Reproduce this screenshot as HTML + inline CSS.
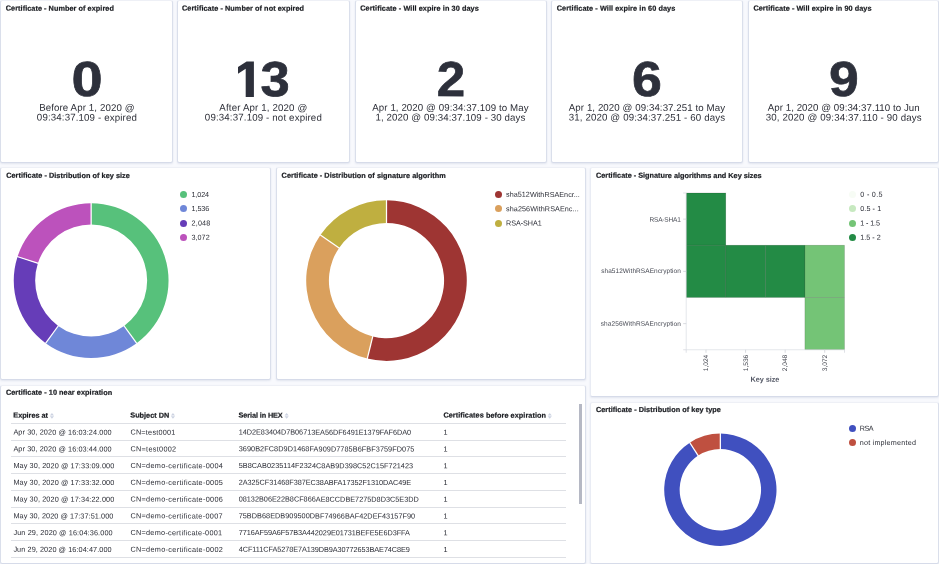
<!DOCTYPE html>
<html><head><meta charset="utf-8"><title>Certificates</title>
<style>
*{box-sizing:border-box;margin:0;padding:0}
html,body{width:939px;height:564px;overflow:hidden;background:#f8f9fd;font-family:"Liberation Sans",sans-serif;color:#343741}
.p{position:absolute;background:#fff;border:1px solid #dadfeb;border-top-color:#eef0f6;border-bottom-color:#d6dbe9;border-radius:2.5px;box-shadow:0 1px 2px rgba(160,170,200,.25)}
.a{position:absolute;white-space:nowrap;transform:rotate(0.1deg)}
#tx{position:absolute;left:0;top:0;width:939px;height:564px;will-change:transform}
.t{font-weight:bold;color:#1a1c21;line-height:9px;-webkit-text-stroke:0.22px #1a1c21}
.num{font-weight:bold;color:#2d303b;transform-origin:50% 50%;-webkit-text-stroke:0.7px #2d303b}
.lab{color:#2b2d36;line-height:10px}
.lg{line-height:9px;color:#2b2d36}
.dot{position:absolute;width:7px;height:7px;border-radius:50%}
.th{font-weight:bold;color:#1a1c21;line-height:9px;-webkit-text-stroke:0.22px #1a1c21}
.td{color:#2b2d36;line-height:9px}
.hl{position:absolute;left:10.8px;width:555.2px;height:1px;background:#dee0e5}
svg{position:absolute;left:0;top:0}
</style></head><body>

<div class="p" style="left:0px;top:0px;width:173px;height:163px;"></div>
<div class="p" style="left:177px;top:0px;width:173px;height:163px;"></div>
<div class="p" style="left:355px;top:0px;width:192px;height:163px;"></div>
<div class="p" style="left:551px;top:0px;width:192px;height:163px;"></div>
<div class="p" style="left:748px;top:0px;width:191px;height:163px;"></div>
<div class="p" style="left:0px;top:167px;width:271px;height:213px;"></div>
<div class="p" style="left:276px;top:167px;width:310px;height:213px;"></div>
<div class="p" style="left:590px;top:167px;width:349px;height:230px;border-left-color:#e9ecf4;"></div>
<div class="p" style="left:0px;top:385px;width:586px;height:179px;"></div>
<div class="p" style="left:590px;top:402px;width:349px;height:162px;border-left-color:#e9ecf4;"></div>
<svg width="939" height="564" viewBox="0 0 939 564" style="will-change:transform"><path d="M253.9 61.4H246.6L238 66.9V73.7L245.7 68.8V97H253.9Z" fill="#2d303b"/></svg>
<svg width="939" height="564" viewBox="0 0 939 564">
<path d="M91.15 203.20A77.4 77.4 0 0 1 136.64 343.22L124.07 325.90A56.0 56.0 0 0 0 91.15 224.60Z" fill="#57c17b"/>
<path d="M136.64 343.22A77.4 77.4 0 0 1 45.66 343.22L58.23 325.90A56.0 56.0 0 0 0 124.07 325.90Z" fill="#6f87d8"/>
<path d="M45.66 343.22A77.4 77.4 0 0 1 17.54 256.68L37.89 263.30A56.0 56.0 0 0 0 58.23 325.90Z" fill="#663db8"/>
<path d="M17.54 256.68A77.4 77.4 0 0 1 91.15 203.20L91.15 224.60A56.0 56.0 0 0 0 37.89 263.30Z" fill="#bc52bc"/>
<path d="M91.15 225.10L91.15 202.70" stroke="#fff" stroke-width="1.25"/>
<path d="M123.77 325.50L136.94 343.62" stroke="#fff" stroke-width="1.25"/>
<path d="M58.53 325.50L45.36 343.62" stroke="#fff" stroke-width="1.25"/>
<path d="M38.37 263.45L17.06 256.53" stroke="#fff" stroke-width="1.25"/>
<path d="M386.50 200.30A80.3 80.3 0 1 1 367.28 358.57L372.72 336.53A57.6 57.6 0 1 0 386.50 223.00Z" fill="#9e3533"/>
<path d="M367.28 358.57A80.3 80.3 0 0 1 320.41 234.98L339.10 247.88A57.6 57.6 0 0 0 372.72 336.53Z" fill="#daa05d"/>
<path d="M320.41 234.98A80.3 80.3 0 0 1 386.50 200.30L386.50 223.00A57.6 57.6 0 0 0 339.10 247.88Z" fill="#bfaf40"/>
<path d="M386.50 223.50L386.50 199.80" stroke="#fff" stroke-width="1.25"/>
<path d="M372.84 336.04L367.16 359.05" stroke="#fff" stroke-width="1.25"/>
<path d="M339.51 248.16L320.00 234.70" stroke="#fff" stroke-width="1.25"/>
<path d="M720.35 433.60A56.15 56.15 0 1 1 689.77 442.66L698.18 455.62A40.7 40.7 0 1 0 720.35 449.05Z" fill="#4050bf"/>
<path d="M689.77 442.66A56.15 56.15 0 0 1 720.35 433.60L720.35 449.05A40.7 40.7 0 0 0 698.18 455.62Z" fill="#bf5040"/>
<path d="M720.35 449.55L720.35 433.10" stroke="#fff" stroke-width="1.25"/>
<path d="M698.46 456.04L689.50 442.24" stroke="#fff" stroke-width="1.25"/>
<rect x="686.2" y="193.0" width="39.58" height="52.25" fill="#238b45" stroke="rgba(0,0,0,0.22)" stroke-width="0.6"/>
<rect x="686.2" y="245.2" width="39.58" height="52.25" fill="#238b45" stroke="rgba(0,0,0,0.22)" stroke-width="0.6"/>
<rect x="725.8" y="245.2" width="39.58" height="52.25" fill="#238b45" stroke="rgba(0,0,0,0.22)" stroke-width="0.6"/>
<rect x="765.4" y="245.2" width="39.58" height="52.25" fill="#238b45" stroke="rgba(0,0,0,0.22)" stroke-width="0.6"/>
<rect x="804.9" y="245.2" width="39.58" height="52.25" fill="#74c476" stroke="rgba(0,0,0,0.22)" stroke-width="0.6"/>
<rect x="804.9" y="297.5" width="39.58" height="52.25" fill="#74c476" stroke="rgba(0,0,0,0.22)" stroke-width="0.6"/>
<path d="M686.2 193.0V349.75H844.52" fill="none" stroke="#d9dce2" stroke-width="0.7"/>
<path d="M683.2 219.125H686.2" stroke="#c9ccd3" stroke-width="0.7"/>
<path d="M683.2 271.375H686.2" stroke="#c9ccd3" stroke-width="0.7"/>
<path d="M683.2 323.625H686.2" stroke="#c9ccd3" stroke-width="0.7"/>
<path d="M705.99 349.75v3" stroke="#c9ccd3" stroke-width="0.7"/>
<path d="M745.57 349.75v3" stroke="#c9ccd3" stroke-width="0.7"/>
<path d="M785.1500000000001 349.75v3" stroke="#c9ccd3" stroke-width="0.7"/>
<path d="M824.73 349.75v3" stroke="#c9ccd3" stroke-width="0.7"/>
<path d="M686.2 349.75v3M844.52 349.75v3M683.2 193.0h3M683.2 349.75h3" stroke="#d3d6dc" stroke-width="0.7"/>
<path d="M49.85 415.4L51.95 413.0L54.050000000000004 415.4ZM49.85 416.3L51.95 418.7L54.050000000000004 416.3Z" fill="#cdd3e2"/>
<path d="M170.85 415.4L172.95 413.0L175.04999999999998 415.4ZM170.85 416.3L172.95 418.7L175.04999999999998 416.3Z" fill="#cdd3e2"/>
<path d="M284.54999999999995 415.4L286.65 413.0L288.75 415.4ZM284.54999999999995 416.3L286.65 418.7L288.75 416.3Z" fill="#cdd3e2"/>
<path d="M547.65 415.4L549.75 413.0L551.85 415.4ZM547.65 416.3L549.75 418.7L551.85 416.3Z" fill="#cdd3e2"/>
</svg>
<div class="dot" style="left:849.20px;top:190.70px;background:#f7fcf5"></div>
<div class="dot" style="left:849.20px;top:205.10px;background:#c7e9c0"></div>
<div class="dot" style="left:849.20px;top:219.50px;background:#74c476"></div>
<div class="dot" style="left:849.20px;top:233.80px;background:#238b45"></div>
<div class="dot" style="left:180.30px;top:190.90px;background:#57c17b"></div>
<div class="dot" style="left:180.30px;top:205.10px;background:#6f87d8"></div>
<div class="dot" style="left:180.30px;top:219.50px;background:#663db8"></div>
<div class="dot" style="left:180.30px;top:233.80px;background:#bc52bc"></div>
<div class="dot" style="left:495.00px;top:190.90px;background:#9e3533"></div>
<div class="dot" style="left:495.00px;top:205.20px;background:#daa05d"></div>
<div class="dot" style="left:495.00px;top:219.60px;background:#bfaf40"></div>
<div class="dot" style="left:849.10px;top:424.70px;background:#4050bf"></div>
<div class="dot" style="left:849.10px;top:439.00px;background:#bf5040"></div>
<div class="hl" style="top:422.80px"></div>
<div class="hl" style="top:439.55px"></div>
<div class="hl" style="top:456.30px"></div>
<div class="hl" style="top:473.05px"></div>
<div class="hl" style="top:489.80px"></div>
<div class="hl" style="top:506.55px"></div>
<div class="hl" style="top:523.30px"></div>
<div class="hl" style="top:540.05px"></div>
<div class="hl" style="top:556.80px"></div>
<div style="position:absolute;left:579.3px;top:404px;width:2.6px;height:99.5px;background:#b5b8c4"></div>
<div id="tx">
<div class="a t" style="left:5px;top:3px;font-size:7.3px;transform:translate(0.80px,0.70px) rotate(0.1deg);letter-spacing:0.047px;">Certificate - Number of expired</div>
<div class="a t" style="left:182px;top:3px;font-size:7.3px;transform:translate(0.00px,0.70px) rotate(0.1deg);letter-spacing:0.060px;">Certificate - Number of not expired</div>
<div class="a t" style="left:360px;top:3px;font-size:7.3px;transform:translate(0.20px,0.70px) rotate(0.1deg);letter-spacing:0.075px;">Certificate - Will expire in 30 days</div>
<div class="a t" style="left:556px;top:3px;font-size:7.3px;transform:translate(0.70px,0.70px) rotate(0.1deg);letter-spacing:0.075px;">Certificate - Will expire in 60 days</div>
<div class="a t" style="left:753px;top:3px;font-size:7.3px;transform:translate(0.40px,0.70px) rotate(0.1deg);letter-spacing:0.064px;">Certificate - Will expire in 90 days</div>
<div class="a t" style="left:6px;top:170px;font-size:7.3px;transform:translate(0.20px,0.90px) rotate(0.1deg);letter-spacing:0.043px;">Certificate - Distribution of key size</div>
<div class="a t" style="left:281px;top:170px;font-size:7.3px;transform:translate(0.60px,0.90px) rotate(0.1deg);letter-spacing:0.041px;">Certificate - Distribution of signature algorithm</div>
<div class="a t" style="left:596px;top:170px;font-size:7.3px;transform:translate(0.00px,0.90px) rotate(0.1deg);letter-spacing:0.004px;">Certificate - Signature algorithms and Key sizes</div>
<div class="a t" style="left:5px;top:387px;font-size:7.3px;transform:translate(0.90px,0.80px) rotate(0.1deg);letter-spacing:0.053px;">Certificate - 10 near expiration</div>
<div class="a t" style="left:595px;top:405px;font-size:7.3px;transform:translate(0.90px,0.00px) rotate(0.1deg);letter-spacing:0.046px;">Certificate - Distribution of key type</div>
<div class="a num" style="left:36.5px;width:100px;text-align:center;top:56.9px;font-size:49.2px;line-height:44px;transform:scaleX(1.137) rotate(0.1deg)">0</div>
<div class="a num" style="left:400.6px;width:100px;text-align:center;top:56.9px;font-size:49.2px;line-height:44px;transform:scaleX(1.038) rotate(0.1deg)">2</div>
<div class="a num" style="left:597.1px;width:100px;text-align:center;top:56.9px;font-size:49.2px;line-height:44px;transform:scaleX(1.090) rotate(0.1deg)">6</div>
<div class="a num" style="left:793.9px;width:100px;text-align:center;top:56.9px;font-size:49.2px;line-height:44px;transform:scaleX(1.086) rotate(0.1deg)">9</div>
<div class="a num" style="left:224.8px;width:100px;text-align:center;top:56.9px;font-size:49.2px;line-height:44px;transform:scaleX(1.066) rotate(0.1deg)">3</div>
<div class="a lab" style="left:39px;top:102px;font-size:9.7px;transform:translate(0.15px,0.85px) rotate(0.1deg);letter-spacing:0.109px;">Before Apr 1, 2020 @</div>
<div class="a lab" style="left:36px;top:112px;font-size:9.7px;transform:translate(0.85px,0.65px) rotate(0.1deg);letter-spacing:0.144px;">09:34:37.109 - expired</div>
<div class="a lab" style="left:219px;top:102px;font-size:9.7px;transform:translate(0.35px,0.85px) rotate(0.1deg);letter-spacing:0.153px;">After Apr 1, 2020 @</div>
<div class="a lab" style="left:204px;top:112px;font-size:9.7px;transform:translate(0.85px,0.65px) rotate(0.1deg);letter-spacing:0.154px;">09:34:37.109 - not expired</div>
<div class="a lab" style="left:372px;top:102px;font-size:9.7px;transform:translate(0.30px,0.85px) rotate(0.1deg);letter-spacing:0.080px;">Apr 1, 2020 @ 09:34:37.109 to May</div>
<div class="a lab" style="left:375px;top:112px;font-size:9.7px;transform:translate(0.45px,0.65px) rotate(0.1deg);letter-spacing:0.105px;">1, 2020 @ 09:34:37.109 - 30 days</div>
<div class="a lab" style="left:568px;top:102px;font-size:9.7px;transform:translate(0.80px,0.85px) rotate(0.1deg);letter-spacing:0.080px;">Apr 1, 2020 @ 09:34:37.251 to May</div>
<div class="a lab" style="left:568px;top:112px;font-size:9.7px;transform:translate(0.80px,0.65px) rotate(0.1deg);letter-spacing:0.130px;">31, 2020 @ 09:34:37.251 - 60 days</div>
<div class="a lab" style="left:767px;top:102px;font-size:9.7px;transform:translate(0.75px,0.85px) rotate(0.1deg);letter-spacing:0.052px;">Apr 1, 2020 @ 09:34:37.110 to Jun</div>
<div class="a lab" style="left:765px;top:112px;font-size:9.7px;transform:translate(0.80px,0.65px) rotate(0.1deg);letter-spacing:0.140px;">30, 2020 @ 09:34:37.110 - 90 days</div>
<div class="a lg" style="left:649px;top:214px;font-size:6.5px;transform:translate(0.40px,0.83px) rotate(0.1deg);letter-spacing:-0.144px;color:#464953;">RSA-SHA1</div>
<div class="a lg" style="left:601px;top:265px;font-size:6.5px;transform:translate(0.20px,0.97px) rotate(0.1deg);letter-spacing:0.059px;color:#464953;">sha512WithRSAEncryption</div>
<div class="a lg" style="left:600px;top:318px;font-size:6.5px;transform:translate(0.80px,0.82px) rotate(0.1deg);letter-spacing:0.077px;color:#464953;">sha256WithRSAEncryption</div>
<div class="a" style="left:706.19px;top:363.0px;font-size:6.6px;line-height:8px;color:#444750;transform:translate(-50%,-50%) rotate(-89.9deg)">1,024</div>
<div class="a" style="left:745.7700000000001px;top:363.0px;font-size:6.6px;line-height:8px;color:#444750;transform:translate(-50%,-50%) rotate(-89.9deg)">1,536</div>
<div class="a" style="left:785.3500000000001px;top:363.0px;font-size:6.6px;line-height:8px;color:#444750;transform:translate(-50%,-50%) rotate(-89.9deg)">2,048</div>
<div class="a" style="left:824.9300000000001px;top:363.0px;font-size:6.6px;line-height:8px;color:#444750;transform:translate(-50%,-50%) rotate(-89.9deg)">3,072</div>
<div class="a lg" style="left:750px;top:374px;font-size:7.3px;transform:translate(0.60px,0.80px) rotate(0.1deg);letter-spacing:-0.060px;color:#535765;font-weight:bold;">Key size</div>
<div class="a lg" style="left:860px;top:189px;font-size:7.2px;transform:translate(0.30px,0.70px) rotate(0.1deg);letter-spacing:0.298px;">0 - 0.5</div>
<div class="a lg" style="left:860px;top:204px;font-size:7.2px;transform:translate(0.30px,0.10px) rotate(0.1deg);letter-spacing:0.081px;">0.5 - 1</div>
<div class="a lg" style="left:860px;top:218px;font-size:7.2px;transform:translate(0.30px,0.50px) rotate(0.1deg);letter-spacing:-0.119px;">1 - 1.5</div>
<div class="a lg" style="left:860px;top:232px;font-size:7.2px;transform:translate(0.30px,0.80px) rotate(0.1deg);letter-spacing:0.015px;">1.5 - 2</div>
<div class="a lg" style="left:191px;top:189px;font-size:7.2px;transform:translate(0.40px,0.90px) rotate(0.1deg);letter-spacing:-0.080px;">1,024</div>
<div class="a lg" style="left:191px;top:204px;font-size:7.2px;transform:translate(0.40px,0.10px) rotate(0.1deg);letter-spacing:-0.005px;">1,536</div>
<div class="a lg" style="left:191px;top:218px;font-size:7.2px;transform:translate(0.40px,0.50px) rotate(0.1deg);letter-spacing:0.245px;">2,048</div>
<div class="a lg" style="left:191px;top:232px;font-size:7.2px;transform:translate(0.40px,0.80px) rotate(0.1deg);letter-spacing:0.071px;">3,072</div>
<div class="a lg" style="left:506px;top:189px;font-size:7.2px;transform:translate(0.10px,0.90px) rotate(0.1deg);letter-spacing:0.035px;">sha512WithRSAEncr...</div>
<div class="a lg" style="left:506px;top:204px;font-size:7.2px;transform:translate(0.10px,0.20px) rotate(0.1deg);letter-spacing:0.081px;">sha256WithRSAEnc...</div>
<div class="a lg" style="left:506px;top:218px;font-size:7.2px;transform:translate(0.10px,0.60px) rotate(0.1deg);letter-spacing:-0.059px;">RSA-SHA1</div>
<div class="a lg" style="left:859px;top:423px;font-size:7.2px;transform:translate(0.70px,0.70px) rotate(0.1deg);letter-spacing:-0.452px;">RSA</div>
<div class="a lg" style="left:859px;top:438px;font-size:7.2px;transform:translate(0.70px,0.00px) rotate(0.1deg);letter-spacing:0.219px;">not implemented</div>
<div class="a th" style="left:13px;top:410px;font-size:7.3px;transform:translate(0.30px,0.65px) rotate(0.1deg);letter-spacing:-0.022px;">Expires at</div>
<div class="a th" style="left:130px;top:410px;font-size:7.3px;transform:translate(0.30px,0.65px) rotate(0.1deg);letter-spacing:-0.004px;">Subject DN</div>
<div class="a th" style="left:238px;top:410px;font-size:7.3px;transform:translate(0.60px,0.65px) rotate(0.1deg);letter-spacing:-0.112px;">Serial in HEX</div>
<div class="a th" style="left:443px;top:410px;font-size:7.3px;transform:translate(0.40px,0.65px) rotate(0.1deg);letter-spacing:0.055px;">Certificates before expiration</div>
<div class="a td" style="left:13px;top:427px;font-size:7.3px;transform:translate(0.40px,0.65px) rotate(0.1deg);letter-spacing:0.092px;">Apr 30, 2020 @ 16:03:24.000</div>
<div class="a td" style="left:130px;top:427px;font-size:7.3px;transform:translate(0.40px,0.65px) rotate(0.1deg);letter-spacing:0.219px;">CN=test0001</div>
<div class="a td" style="left:238px;top:427px;font-size:7.3px;transform:translate(0.70px,0.65px) rotate(0.1deg);letter-spacing:-0.031px;">14D2E83404D7B06713EA56DF6491E1379FAF6DA0</div>
<div class="a td" style="left:443px;top:427px;font-size:7.3px;transform:translate(0.50px,0.65px) rotate(0.1deg);">1</div>
<div class="a td" style="left:13px;top:444px;font-size:7.3px;transform:translate(0.40px,0.40px) rotate(0.1deg);letter-spacing:0.092px;">Apr 30, 2020 @ 16:03:44.000</div>
<div class="a td" style="left:130px;top:444px;font-size:7.3px;transform:translate(0.40px,0.40px) rotate(0.1deg);letter-spacing:0.299px;">CN=test0002</div>
<div class="a td" style="left:238px;top:444px;font-size:7.3px;transform:translate(0.70px,0.40px) rotate(0.1deg);letter-spacing:0.064px;">3690B2FC8D9D1468FA909D7785B6FBF3759FD075</div>
<div class="a td" style="left:443px;top:444px;font-size:7.3px;transform:translate(0.50px,0.40px) rotate(0.1deg);">1</div>
<div class="a td" style="left:13px;top:461px;font-size:7.3px;transform:translate(0.40px,0.15px) rotate(0.1deg);letter-spacing:0.099px;">May 30, 2020 @ 17:33:09.000</div>
<div class="a td" style="left:130px;top:461px;font-size:7.3px;transform:translate(0.40px,0.15px) rotate(0.1deg);letter-spacing:0.308px;">CN=demo-certificate-0004</div>
<div class="a td" style="left:238px;top:461px;font-size:7.3px;transform:translate(0.70px,0.15px) rotate(0.1deg);letter-spacing:0.044px;">5B8CAB0235114F2324C8AB9D398C52C15F721423</div>
<div class="a td" style="left:443px;top:461px;font-size:7.3px;transform:translate(0.50px,0.15px) rotate(0.1deg);">1</div>
<div class="a td" style="left:13px;top:477px;font-size:7.3px;transform:translate(0.40px,0.90px) rotate(0.1deg);letter-spacing:0.099px;">May 30, 2020 @ 17:33:32.000</div>
<div class="a td" style="left:130px;top:477px;font-size:7.3px;transform:translate(0.40px,0.90px) rotate(0.1deg);letter-spacing:0.308px;">CN=demo-certificate-0005</div>
<div class="a td" style="left:238px;top:477px;font-size:7.3px;transform:translate(0.70px,0.90px) rotate(0.1deg);letter-spacing:-0.041px;">2A325CF31468F387EC38ABFA17352F1310DAC49E</div>
<div class="a td" style="left:443px;top:477px;font-size:7.3px;transform:translate(0.50px,0.90px) rotate(0.1deg);">1</div>
<div class="a td" style="left:13px;top:494px;font-size:7.3px;transform:translate(0.40px,0.65px) rotate(0.1deg);letter-spacing:0.099px;">May 30, 2020 @ 17:34:22.000</div>
<div class="a td" style="left:130px;top:494px;font-size:7.3px;transform:translate(0.40px,0.65px) rotate(0.1deg);letter-spacing:0.308px;">CN=demo-certificate-0006</div>
<div class="a td" style="left:238px;top:494px;font-size:7.3px;transform:translate(0.70px,0.65px) rotate(0.1deg);letter-spacing:0.000px;">08132B06E22B8CF866AE8CCDBE7275D8D3C5E3DD</div>
<div class="a td" style="left:443px;top:494px;font-size:7.3px;transform:translate(0.50px,0.65px) rotate(0.1deg);">1</div>
<div class="a td" style="left:13px;top:511px;font-size:7.3px;transform:translate(0.40px,0.40px) rotate(0.1deg);letter-spacing:0.064px;">May 30, 2020 @ 17:37:51.000</div>
<div class="a td" style="left:130px;top:511px;font-size:7.3px;transform:translate(0.40px,0.40px) rotate(0.1deg);letter-spacing:0.295px;">CN=demo-certificate-0007</div>
<div class="a td" style="left:238px;top:511px;font-size:7.3px;transform:translate(0.70px,0.40px) rotate(0.1deg);letter-spacing:0.030px;">75BDB68EDB909500DBF74966BAF42DEF43157F90</div>
<div class="a td" style="left:443px;top:511px;font-size:7.3px;transform:translate(0.50px,0.40px) rotate(0.1deg);">1</div>
<div class="a td" style="left:13px;top:528px;font-size:7.3px;transform:translate(0.40px,0.15px) rotate(0.1deg);letter-spacing:0.115px;">Jun 29, 2020 @ 16:04:36.000</div>
<div class="a td" style="left:130px;top:528px;font-size:7.3px;transform:translate(0.40px,0.15px) rotate(0.1deg);letter-spacing:0.278px;">CN=demo-certificate-0001</div>
<div class="a td" style="left:238px;top:528px;font-size:7.3px;transform:translate(0.70px,0.15px) rotate(0.1deg);letter-spacing:-0.051px;">7716AF59A6F57B3A442029E01731BEFE5E6D3FFA</div>
<div class="a td" style="left:443px;top:528px;font-size:7.3px;transform:translate(0.50px,0.15px) rotate(0.1deg);">1</div>
<div class="a td" style="left:13px;top:544px;font-size:7.3px;transform:translate(0.40px,0.90px) rotate(0.1deg);letter-spacing:0.077px;">Jun 29, 2020 @ 16:04:47.000</div>
<div class="a td" style="left:130px;top:544px;font-size:7.3px;transform:translate(0.40px,0.90px) rotate(0.1deg);letter-spacing:0.308px;">CN=demo-certificate-0002</div>
<div class="a td" style="left:238px;top:544px;font-size:7.3px;transform:translate(0.70px,0.90px) rotate(0.1deg);letter-spacing:-0.065px;">4CF111CFA5278E7A139DB9A30772653BAE74C8E9</div>
<div class="a td" style="left:443px;top:544px;font-size:7.3px;transform:translate(0.50px,0.90px) rotate(0.1deg);">1</div>
</div>
</body></html>
